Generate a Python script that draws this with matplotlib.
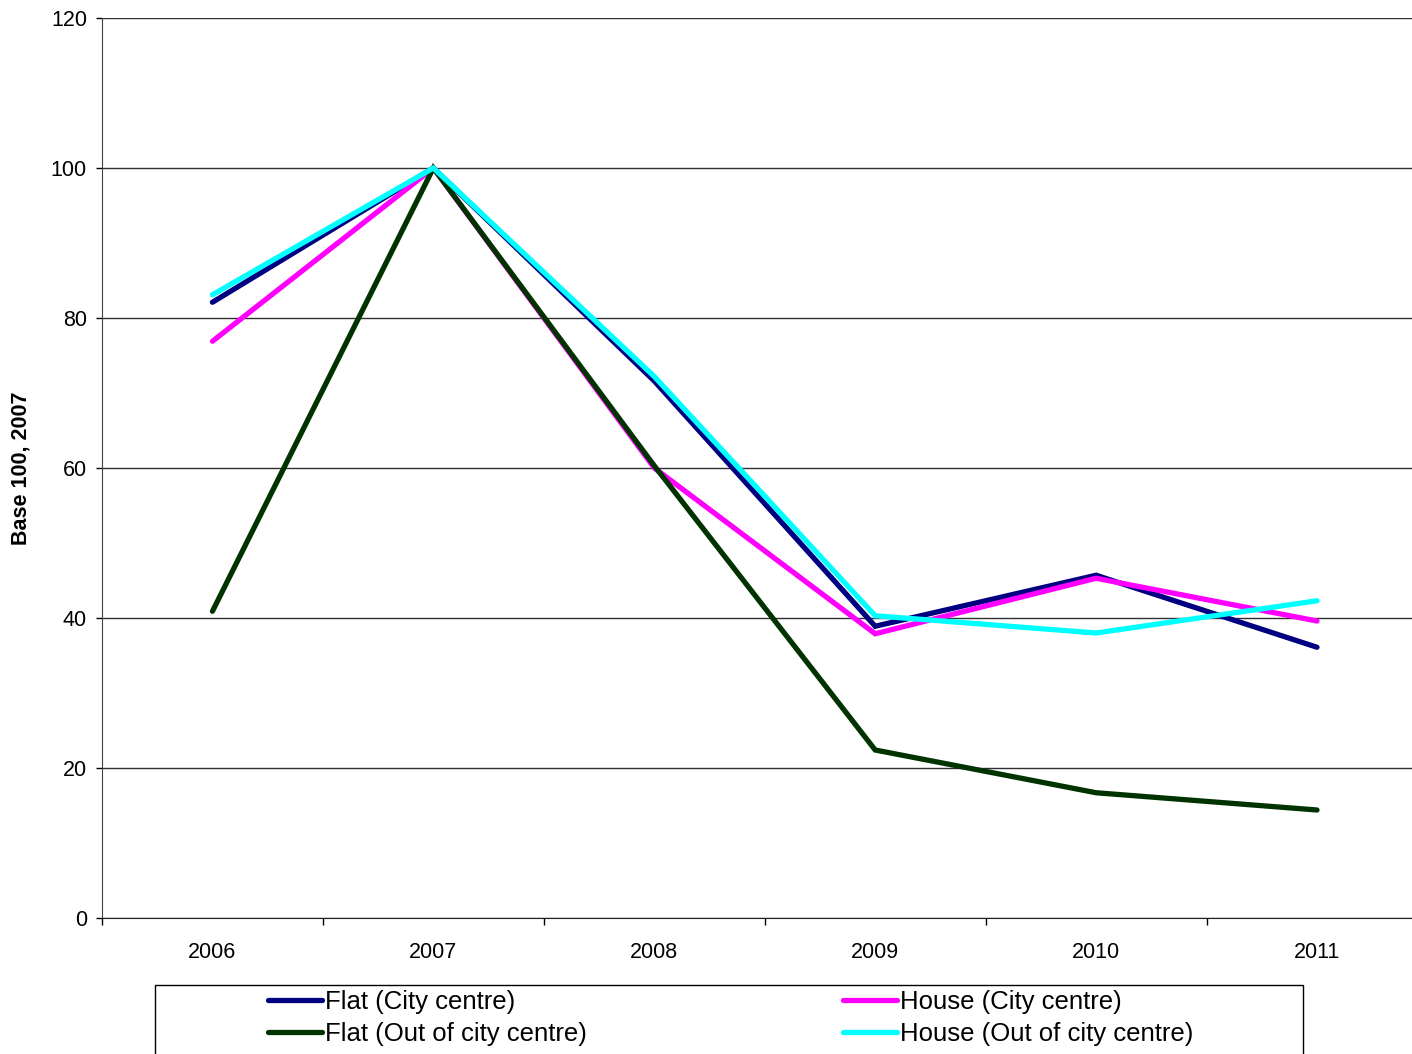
import numpy as np
import matplotlib
matplotlib.use("Agg")
import matplotlib.pyplot as plt
from matplotlib.patches import Rectangle

plt.rcParams['font.family'] = ['Liberation Sans', 'DejaVu Sans']

years = ['2006', '2007', '2008', '2009', '2010', '2011']
flat_city = [82.1, 100, 71.6, 38.9, 45.7, 36.1]
house_city = [76.9, 100, 60.0, 37.9, 45.3, 39.6]
flat_out = [40.9, 100, 60.3, 22.4, 16.7, 14.4]
house_out = [83.1, 100, 72.2, 40.3, 38.0, 42.3]

series = [
    ('Flat (City centre)', flat_city, '#000080'),
    ('House (City centre)', house_city, '#FF00FF'),
    ('Flat (Out of city centre)', flat_out, '#003300'),
    ('House (Out of city centre)', house_out, '#00FFFF'),
]

W, H = 1412, 1054
fig = plt.figure(figsize=(W / 100, H / 100), dpi=100)
ax = fig.add_axes([102 / W, 1 - 918 / H, 1 - 102 / W, 900 / H])

x = np.arange(len(years))
handles = {}
for name, vals, col in series:
    h, = ax.plot(x, vals, color=col, lw=3.8, solid_capstyle='round',
                 solid_joinstyle='miter', label=name)
    handles[name] = h

ax.set_xlim(-0.5, 5.43)
ax.set_ylim(0, 120)
ax.set_yticks(np.arange(0, 121, 20))
ax.set_xticks(x)
ax.set_xticklabels(years)
ax.set_xticks(np.arange(-0.5, 5.0, 1.0), minor=True)
ax.tick_params(axis='x', which='major', length=0, pad=17, labelsize=15.5)
ax.tick_params(axis='x', which='minor', length=5, width=1, direction='out')
ax.tick_params(axis='y', length=4.3, width=1, direction='out', pad=6.5,
               labelsize=15.5)

ax.yaxis.grid(True, color='#303030', lw=1)
ax.set_axisbelow(True)
for s in ['top', 'right']:
    ax.spines[s].set_visible(False)
ax.spines['left'].set_color('#404040')
ax.spines['bottom'].set_color('#202020')

ax.set_ylabel('Base 100, 2007', fontsize=15.5, fontweight='bold', labelpad=14)

# legend box (bottom edge runs off the figure)
fig.patches.append(Rectangle((155 / W, -0.02), 1148 / W, 0.02 + 1 - 985 / H,
                             transform=fig.transFigure, fill=False,
                             edgecolor='black', lw=1))

cols = [(268, ['Flat (City centre)', 'Flat (Out of city centre)']),
        (843, ['House (City centre)', 'House (Out of city centre)'])]
for x0, names in cols:
    leg = fig.legend([handles[n] for n in names], names, loc='upper left',
                     bbox_to_anchor=(x0 / W, 1 - 990 / H), frameon=False,
                     fontsize=18.5, handlelength=2.1, handletextpad=0.12,
                     borderaxespad=0, borderpad=0, labelspacing=0.3)

fig.savefig('out.png', dpi=100)
